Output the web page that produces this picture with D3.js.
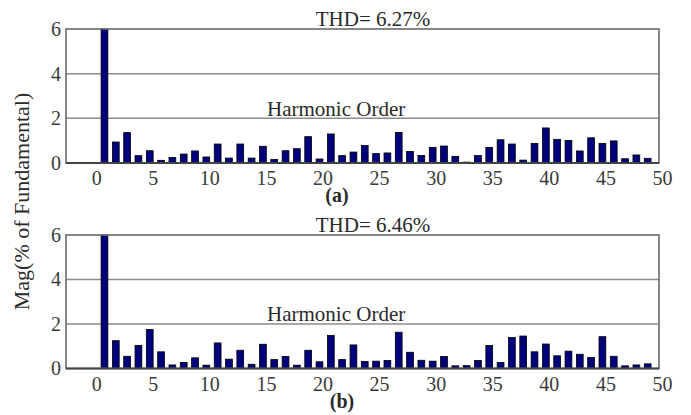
<!DOCTYPE html>
<html>
<head>
<meta charset="utf-8">
<script src="https://cdn.jsdelivr.net/npm/d3@7"></script>
<style>
  body { margin: 0; background: #fff; }
  svg text { font-family: 'Liberation Serif', 'Times New Roman', Times, 'DejaVu Serif', serif; }
</style>
</head>
<body>
<svg id="chart" width="691" height="415"></svg>
<script>
// harmonic orders 1..49 (1 = fundamental, drawn off the top)
var harmonics = d3.range(1, 50);
var magA = [100, 0.94, 1.36, 0.33, 0.55, 0.12, 0.25, 0.40, 0.54, 0.27,
            0.85, 0.22, 0.85, 0.22, 0.75, 0.16, 0.55, 0.64, 1.18, 0.18,
            1.30, 0.33, 0.49, 0.78, 0.42, 0.45, 1.37, 0.52, 0.34, 0.70,
            0.76, 0.30, 0.04, 0.34, 0.70, 1.04, 0.85, 0.13, 0.88, 1.57,
            1.06, 1.01, 0.54, 1.13, 0.88, 0.99, 0.19, 0.36, 0.21];
var magB = [100, 1.25, 0.55, 1.04, 1.75, 0.75, 0.16, 0.27, 0.48, 0.15,
            1.15, 0.42, 0.82, 0.19, 1.09, 0.40, 0.54, 0.15, 0.82, 0.30,
            1.49, 0.40, 1.06, 0.31, 0.33, 0.36, 1.63, 0.73, 0.37, 0.33,
            0.54, 0.12, 0.13, 0.36, 1.03, 0.27, 1.39, 1.46, 0.75, 1.10,
            0.57, 0.78, 0.64, 0.49, 1.43, 0.55, 0.12, 0.16, 0.21];
var xTicks = [0, 5, 10, 15, 20, 25, 30, 35, 40, 45, 50];
var yTicks = [0, 2, 4, 6];
var panels = [
  { title: 'THD= 6.27%', tag: '(a)', values: magA, top: 29, bottom: 163 },
  { title: 'THD= 6.46%', tag: '(b)', values: magB, top: 235, bottom: 368.5 }
];

var svg = d3.select('#chart');
var x = d3.scaleLinear().domain([-2.4, 50]).range([66, 659]);
var barW = (x(1) - x(0)) * 0.6;

panels.forEach(function (p) {
  var y = d3.scaleLinear().domain([0, 6]).range([p.bottom, p.top]).clamp(true);
  var g = svg.append('g');

  // horizontal grid
  g.selectAll('.grid').data(yTicks.slice(1, 3)).enter().append('line')
    .attr('x1', x.range()[0]).attr('x2', x.range()[1])
    .attr('y1', function (d) { return y(d); }).attr('y2', function (d) { return y(d); })
    .attr('stroke', '#8c8c8c').attr('stroke-width', 1.5);

  g.append('text')
    .attr('x', 267).attr('y', p.bottom - 47.5)
    .attr('font-size', 21).attr('fill', '#2a2a2a')
    .text('Harmonic Order');

  g.selectAll('.bar').data(harmonics).enter().append('rect')
    .attr('x', function (d) { return x(d) - barW / 2; })
    .attr('y', function (d, i) { return y(p.values[i]); })
    .attr('width', barW)
    .attr('height', function (d, i) { return y(0) - y(p.values[i]); })
    .attr('fill', '#00007c').attr('stroke', '#000').attr('stroke-width', 0.8);

  // frame
  g.append('rect')
    .attr('x', x.range()[0]).attr('y', p.top)
    .attr('width', x.range()[1] - x.range()[0]).attr('height', p.bottom - p.top)
    .attr('fill', 'none').attr('stroke', '#6a6a6a').attr('stroke-width', 1.6);
  g.append('line')
    .attr('x1', x.range()[0]).attr('x2', x.range()[1])
    .attr('y1', p.bottom).attr('y2', p.bottom)
    .attr('stroke', '#444').attr('stroke-width', 1.8);

  var xAxis = d3.axisBottom(x).tickValues(xTicks).tickSize(0).tickPadding(8)
    .tickFormat(d3.format('d'));
  g.append('g').attr('transform', 'translate(0,' + p.bottom + ')')
    .call(xAxis)
    .call(function (a) {
      a.select('.domain').remove();
      a.selectAll('text').attr('font-size', 20).attr('dx', 3).attr('fill', '#3a3a3a');
    });

  var yAxis = d3.axisLeft(y).tickValues(yTicks).tickSize(0).tickPadding(5)
    .tickFormat(d3.format('d'));
  g.append('g').attr('transform', 'translate(' + x.range()[0] + ',0)')
    .call(yAxis)
    .call(function (a) {
      a.select('.domain').remove();
      a.selectAll('text').attr('font-size', 20).attr('fill', '#3a3a3a');
    });

  g.append('text')
    .attr('x', 373).attr('y', p.top - 3.5)
    .attr('text-anchor', 'middle').attr('font-size', 21).attr('fill', '#2a2a2a')
    .text(p.title);

  g.append('text')
    .attr('x', p.tag === '(a)' ? 337 : 342).attr('y', p.bottom + 39)
    .attr('text-anchor', 'middle').attr('font-size', 20).attr('font-weight', 'bold')
    .attr('fill', '#2a2a2a')
    .text(p.tag);
});

svg.append('text')
  .attr('transform', 'translate(29,201.5) rotate(-90)')
  .attr('text-anchor', 'middle').attr('font-size', 22).attr('fill', '#2a2a2a')
  .text('Mag(% of Fundamental)');
</script>
</body>
</html>
